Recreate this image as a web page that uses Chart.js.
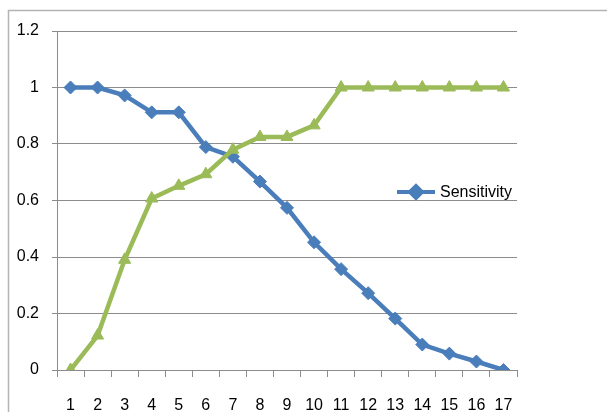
<!DOCTYPE html>
<html>
<head>
<meta charset="utf-8">
<script src="https://cdn.jsdelivr.net/npm/chart.js@4/dist/chart.umd.min.js"></script>
<style>
  html, body { margin: 0; padding: 0; background: #fff; }
  #wrap { width: 607px; height: 412px; }
</style>
</head>
<body>
<div id="wrap"><canvas id="c" width="607" height="412"></canvas></div>
<script>
const categories = ['1','2','3','4','5','6','7','8','9','10','11','12','13','14','15','16','17'];
const sensitivity = [1, 1, 0.972, 0.912, 0.912, 0.789, 0.755, 0.667, 0.574, 0.452, 0.357, 0.272, 0.182, 0.09, 0.058, 0.03, 0];
const specificity = [0, 0.122, 0.39, 0.607, 0.652, 0.693, 0.78, 0.825, 0.825, 0.866, 1, 1, 1, 1, 1, 1, 1];
const yTicks = [0, 0.2, 0.4, 0.6, 0.8, 1, 1.2];
const yTickLabels = ['0', '0.2', '0.4', '0.6', '0.8', '1', '1.2'];

const BLUE = '#4a7ebb';
const GREEN = '#9bbb59';
const GRID = '#8c8c8c';
const FONT = '"Liberation Sans", Arial, sans-serif';

const borderPlugin = {
  id: 'outerBorder',
  beforeDraw(chart) {
    const ctx = chart.ctx;
    ctx.save();
    ctx.strokeStyle = '#b4b4b4';
    ctx.lineWidth = 1.5;
    ctx.strokeRect(8.5, 10.5, 700, 500);
    ctx.restore();
  }
};

const legendPlugin = {
  id: 'customLegend',
  afterDraw(chart) {
    const ds = chart.data.datasets[1];
    const ctx = chart.ctx;
    const a = chart.chartArea;
    const x0 = a.right - 120, y = 192;
    ctx.save();
    ctx.strokeStyle = ds.borderColor;
    ctx.lineWidth = 4;
    ctx.beginPath();
    ctx.moveTo(x0, y);
    ctx.lineTo(x0 + 38, y);
    ctx.stroke();
    Chart.helpers.drawPoint(ctx, {pointStyle: 'rectRot', radius: 6, borderWidth: 1}, x0 + 19, y);
    ctx.fillStyle = ds.borderColor;
    ctx.fill();
    ctx.fillStyle = '#000';
    ctx.font = '16px ' + FONT;
    ctx.textBaseline = 'middle';
    ctx.textAlign = 'left';
    ctx.fillText(ds.label, x0 + 43, y + 1);
    ctx.restore();
  }
};

new Chart(document.getElementById('c'), {
  type: 'line',
  data: {
    labels: categories,
    datasets: [
      {
        label: 'Specificity',
        data: specificity,
        order: 0,
        borderColor: GREEN,
        backgroundColor: GREEN,
        borderWidth: 4.5,
        pointStyle: 'triangle',
        pointRadius: 7,
        pointBorderWidth: 1,
        pointBackgroundColor: GREEN,
        pointBorderColor: GREEN,
        tension: 0
      },
      {
        label: 'Sensitivity',
        data: sensitivity,
        order: 1,
        borderColor: BLUE,
        backgroundColor: BLUE,
        borderWidth: 4.5,
        pointStyle: 'rectRot',
        pointRadius: 6.5,
        pointBorderWidth: 1,
        pointBackgroundColor: BLUE,
        pointBorderColor: BLUE,
        tension: 0
      }
    ]
  },
  options: {
    responsive: false,
    animation: false,
    layout: { padding: { left: 0, top: 31, right: 90, bottom: 0 } },
    plugins: {
      legend: { display: false },
      tooltip: { enabled: false }
    },
    scales: {
      x: {
        offset: true,
        afterFit(scale) { scale.height = 42; },
        grid: {
          offset: true,
          drawOnChartArea: false,
          drawTicks: true,
          tickLength: 7,
          color: GRID,
          lineWidth: 1
        },
        border: { display: true, color: GRID, width: 1 },
        ticks: {
          color: '#000',
          font: { family: FONT, size: 16 },
          padding: 19,
          maxRotation: 0,
          autoSkip: false
        }
      },
      y: {
        min: 0,
        max: 1.2,
        afterBuildTicks(scale) { scale.ticks = yTicks.map(v => ({ value: v })); },
        afterFit(scale) { scale.width = 57; },
        grid: {
          color: GRID,
          lineWidth: 1,
          drawTicks: true,
          tickLength: 5
        },
        border: { display: true, color: GRID, width: 1 },
        ticks: {
          color: '#000',
          font: { family: FONT, size: 16 },
          padding: 13,
          callback(value) {
            const i = yTicks.findIndex(t => Math.abs(t - value) < 1e-9);
            return i >= 0 ? yTickLabels[i] : '';
          }
        }
      }
    }
  },
  plugins: [borderPlugin, legendPlugin]
});
</script>
</body>
</html>
